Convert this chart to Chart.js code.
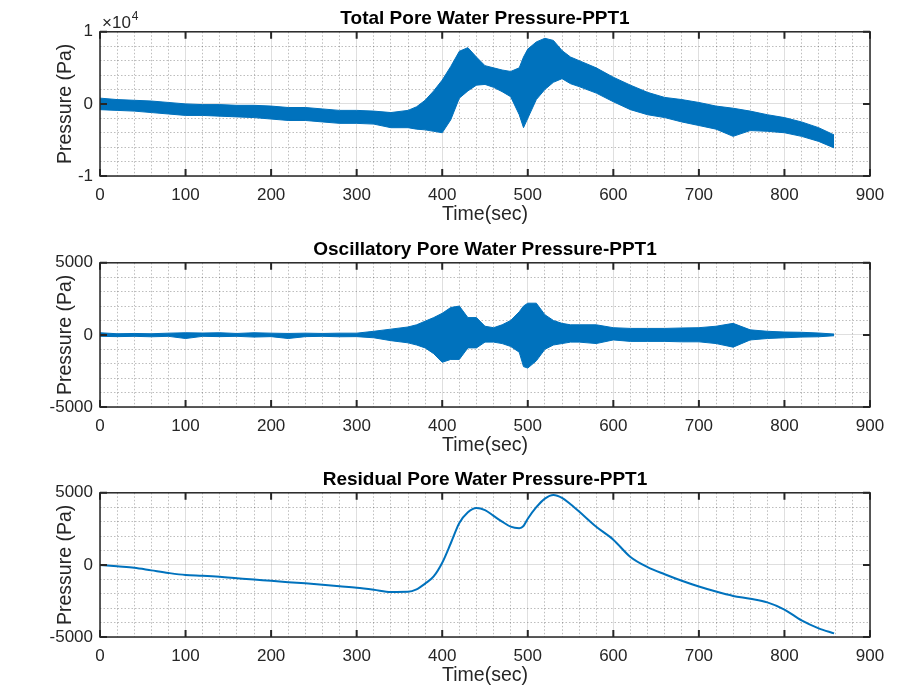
<!DOCTYPE html>
<html lang="en">
<head>
<meta charset="UTF-8">
<title>Pore Water Pressure - PPT1</title>
<script src="https://cdn.jsdelivr.net/npm/chart.js@4.4.1/dist/chart.umd.min.js"></script>
<style>
  body { margin: 0; background: #fff; }
  .wrap { position: relative; width: 907px; height: 692px; overflow: hidden; }
  .wrap canvas { position: absolute; left: 0; }
</style>
</head>
<body>
<div class="wrap">
  <canvas id="totalChart" width="907" height="230" style="top:-1px"></canvas>
  <canvas id="oscChart" width="907" height="230" style="top:230px"></canvas>
  <canvas id="resChart" width="907" height="230" style="top:460px"></canvas>
</div>
<script>
const timeSec = [0,20,40,60,80,100,120,140,160,180,200,220,240,260,280,300,320,340,360,
  370,380,390,400,410,420,430,440,450,460,470,480,490,495,500,510,520,530,540,550,560,
  580,600,620,640,660,680,700,720,740,760,780,800,820,840,858];

// total pore pressure: upper / lower edge of the oscillating band
const totalUpper = [800,600,500,400,200,0,-100,-100,-200,-200,-300,-500,-500,-700,-900,-900,-1000,-1200,-900,
  -400,500,1800,3300,5200,7300,7800,6500,5300,5000,4700,4500,5000,6500,7600,8600,9100,8800,7400,6500,6000,
  5000,3700,2600,1600,900,600,200,-300,-600,-1000,-1500,-1900,-2500,-3300,-4300];
const totalLower = [-800,-900,-1000,-1200,-1400,-1600,-1600,-1700,-1800,-1900,-2100,-2300,-2300,-2500,-2700,-2700,-2800,-3300,-3300,
  -3500,-3600,-3800,-4000,-2200,800,1800,2600,2700,2300,1700,1000,-1500,-3300,-2000,600,2000,3000,3500,2800,2400,
  1500,300,-800,-1500,-1900,-2500,-3000,-3500,-4500,-3700,-3800,-4000,-4500,-5200,-6100];

// oscillatory pore pressure envelope
const oscUpper = [150,80,100,80,120,150,130,150,100,150,120,100,120,100,120,120,250,400,550,
  700,950,1200,1500,1900,2000,1200,1200,600,500,700,1000,1600,2000,2200,2200,1400,1000,800,700,700,
  700,500,450,450,450,480,500,600,800,350,250,200,180,130,60];
const oscLower = [-100,-120,-100,-130,-100,-250,-100,-120,-100,-150,-120,-250,-120,-100,-130,-120,-200,-400,-550,
  -700,-900,-1300,-1900,-1700,-1700,-900,-900,-500,-500,-600,-800,-1200,-2200,-2300,-1800,-1000,-700,-600,-500,-500,
  -600,-350,-450,-450,-450,-480,-480,-600,-850,-350,-250,-200,-150,-130,-60];

// residual pore pressure
const residual = [0,-100,-200,-380,-560,-700,-750,-820,-920,-1020,-1100,-1200,-1280,-1380,-1480,-1580,-1720,-1880,-1870,
  -1700,-1300,-800,150,1500,2900,3650,3950,3800,3400,3000,2650,2550,2700,3200,4000,4600,4850,4650,4200,3700,
  2650,1750,550,-150,-650,-1100,-1500,-1850,-2150,-2350,-2600,-3100,-3850,-4400,-4750];

const xMajor = [0,100,200,300,400,500,600,700,800,900];
const totalTicks = [-10000, 0, 10000];
const totalTickLabels = ['-1', '0', '1'];
const pressureTicks = [-5000, 0, 5000];
const pressureTickLabels = ['-5000', '0', '5000'];

const blue = '#0072BD';
const ink = '#262626';
const majorGrid = 'rgba(38,38,38,0.15)';
const minorGrid = 'rgba(38,38,38,0.3)';
const family = "'Liberation Sans', Arial, Helvetica, sans-serif";

const pts = ys => timeSec.map((t, i) => ({ x: t, y: ys[i] }));

// box, inward tick marks and the x10^4 multiplier, like the matlab axes
const matlabFrame = {
  id: 'matlabFrame',
  afterDatasetsDraw(chart, args, opts) {
    const { ctx, chartArea: a, scales: { x, y } } = chart;
    ctx.save();
    ctx.strokeStyle = ink;
    ctx.lineWidth = 1.5;
    ctx.strokeRect(a.left, a.top, a.right - a.left, a.bottom - a.top);
    ctx.lineWidth = 2;
    ctx.beginPath();
    xMajor.forEach(v => {
      const px = x.getPixelForValue(v);
      ctx.moveTo(px, a.top); ctx.lineTo(px, a.top + 7);
      ctx.moveTo(px, a.bottom); ctx.lineTo(px, a.bottom - 7);
    });
    opts.yMajor.forEach(v => {
      const py = y.getPixelForValue(v);
      ctx.moveTo(a.left, py); ctx.lineTo(a.left + 7, py);
      ctx.moveTo(a.right, py); ctx.lineTo(a.right - 7, py);
    });
    ctx.stroke();
    if (opts.exponent) {
      ctx.fillStyle = ink;
      ctx.textBaseline = 'alphabetic';
      ctx.font = '17px ' + family;
      ctx.fillText('\u00d710', a.left + 2, a.top - 4);
      const w = ctx.measureText('\u00d710').width;
      ctx.font = '12px ' + family;
      ctx.fillText(opts.exponent, a.left + 3 + w, a.top - 12);
    }
    ctx.restore();
  }
};

function makeChart(id, title, datasets, yMin, yMax, yStep, yMajor, yLabels, exponent) {
  return new Chart(document.getElementById(id), {
    type: 'line',
    data: { datasets },
    options: {
      responsive: false,
      animation: false,
      layout: { padding: { left: 0, right: 37, top: 0, bottom: 0 } },
      plugins: {
        legend: { display: false },
        tooltip: { enabled: false },
        title: {
          display: true, text: title, fullSize: false, color: '#000',
          font: { family, size: 19, weight: 'bold' },
          padding: { top: 8, bottom: 2 }
        },
        matlabFrame: { yMajor, exponent }
      },
      scales: {
        x: {
          type: 'linear', min: 0, max: 900,
          afterFit: s => { s.height = 53; },
          ticks: {
            stepSize: 20, autoSkip: false, maxRotation: 0, padding: 9, color: ink,
            font: { family, size: 17 },
            callback: v => (v % 100 === 0 ? String(v) : '')
          },
          grid: {
            drawTicks: false, lineWidth: 1,
            color: c => (c.tick && c.tick.value % 100 === 0 ? majorGrid : minorGrid)
          },
          border: {
            display: false,
            dash: c => (c.tick && c.tick.value % 100 === 0 ? [] : [1.5, 2])
          },
          title: {
            display: true, text: 'Time(sec)', color: ink,
            font: { family, size: 19.5 }, padding: { top: 0, bottom: 3 }
          }
        },
        y: {
          type: 'linear', min: yMin, max: yMax,
          afterFit: s => { s.width = 100; },
          ticks: {
            stepSize: yStep, autoSkip: false, padding: 7, color: ink,
            font: { family, size: 17 },
            callback: v => {
              const k = yMajor.indexOf(v);
              return k >= 0 ? yLabels[k] : '';
            }
          },
          grid: {
            drawTicks: false, lineWidth: 1,
            color: c => (c.tick && yMajor.includes(c.tick.value) ? majorGrid : minorGrid)
          },
          border: {
            display: false,
            dash: c => (c.tick && yMajor.includes(c.tick.value) ? [] : [1.5, 2])
          },
          title: {
            display: true, text: 'Pressure (Pa)', color: ink,
            font: { family, size: 19.5 }, padding: { top: 54, bottom: 0 }
          }
        }
      }
    },
    plugins: [matlabFrame]
  });
}

function band(upper, lower) {
  return [
    { data: pts(upper), borderColor: blue, borderWidth: 1, pointRadius: 0, fill: false, tension: 0 },
    { data: pts(lower), borderColor: blue, borderWidth: 1, pointRadius: 0, fill: '-1', backgroundColor: blue, tension: 0 }
  ];
}

makeChart('totalChart', 'Total Pore Water Pressure-PPT1', band(totalUpper, totalLower),
  -10000, 10000, 2000, totalTicks, totalTickLabels, '4');

makeChart('oscChart', 'Oscillatory Pore Water Pressure-PPT1', band(oscUpper, oscLower),
  -5000, 5000, 1000, pressureTicks, pressureTickLabels, null);

makeChart('resChart', 'Residual Pore Water Pressure-PPT1', [
  { data: pts(residual), borderColor: blue, borderWidth: 2, pointRadius: 0, fill: false, cubicInterpolationMode: 'monotone' }
], -5000, 5000, 1000, pressureTicks, pressureTickLabels, null);
</script>
</body>
</html>
